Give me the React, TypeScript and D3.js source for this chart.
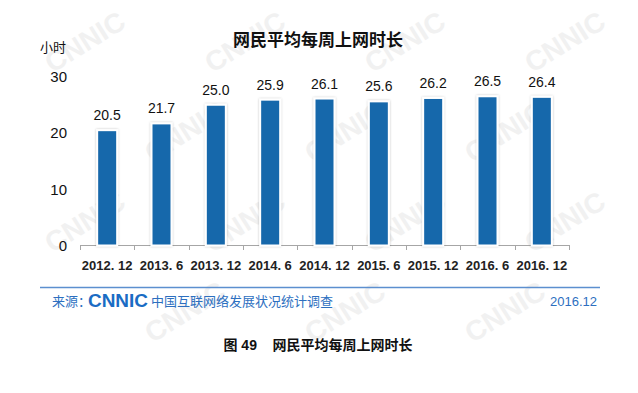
import React, { useEffect, useRef } from 'react';
import * as d3 from 'd3';

const periods = ['2012. 12', '2013. 6', '2013. 12', '2014. 6', '2014. 12', '2015. 6', '2015. 12', '2016. 6', '2016. 12'];
const hours = [20.5, 21.7, 25.0, 25.9, 26.1, 25.6, 26.2, 26.5, 26.4];
const yTicks = [0, 10, 20, 30];

const chartTitle = '网民平均每周上网时长';
const unitLabel = '小时';
const sourcePrefix = '来源：';
const sourceText = '中国互联网络发展状况统计调查';
const sourceDate = '2016.12';
const caption = '图 49    网民平均每周上网时长';

const W = 638;
const H = 393;

const App = () => {
  const svgRef = useRef<SVGSVGElement>(null);

  useEffect(() => {
    const svg = d3.select(svgRef.current);
    svg.selectAll('*').remove();

    const font = 'Arial, "Liberation Sans", "Noto Sans CJK SC", sans-serif';

    const defs = svg.append('defs');
    const filter = defs.append('filter').attr('id', 'barShadow')
      .attr('x', '-30%').attr('y', '-10%').attr('width', '160%').attr('height', '120%');
    filter.append('feDropShadow')
      .attr('dx', 0).attr('dy', 0).attr('stdDeviation', 1.2)
      .attr('flood-color', '#000').attr('flood-opacity', 0.25);

    // faint watermark
    const wm = svg.append('g').attr('fill', '#f1f1f1').style('font-family', 'Arial, sans-serif')
      .style('font-weight', 'bold').style('font-size', '28px');
    for (let r = 0; r < 4; r++) {
      for (let c = 0; c < 4; c++) {
        const wx = 90 + c * 160 - (r % 2) * 60;
        const wy = 50 + r * 90;
        if (wx < 60 || wx > 580 || wy > 340) continue;
        wm.append('text')
          .attr('transform', `translate(${wx},${wy}) rotate(-32)`)
          .attr('text-anchor', 'middle')
          .text('CNNIC');
      }
    }

    const x = d3.scaleBand<string>().domain(periods).range([80, 569]).padding(0);
    const y = d3.scaleLinear().domain([0, 30]).range([246, 76.5]);
    const barW = 20;

    // title
    svg.append('text')
      .attr('x', 318).attr('y', 46)
      .attr('text-anchor', 'middle')
      .style('font-family', font).style('font-weight', 'bold').style('font-size', '17px')
      .attr('fill', '#111')
      .text(chartTitle);

    svg.append('text')
      .attr('x', 66).attr('y', 52)
      .attr('text-anchor', 'end')
      .style('font-family', font).style('font-size', '13px')
      .attr('fill', '#111')
      .text(unitLabel);

    // y ticks
    svg.append('g').selectAll('text')
      .data(yTicks)
      .enter().append('text')
      .attr('x', 67).attr('y', d => y(d) + 5)
      .attr('text-anchor', 'end')
      .style('font-family', font).style('font-size', '15px')
      .attr('fill', '#111')
      .text(d => d);

    // x axis
    const xAxis = svg.append('g').attr('stroke', '#a6a6a6').attr('stroke-width', 1);
    xAxis.append('line').attr('x1', 80).attr('x2', 569).attr('y1', 245.5).attr('y2', 245.5);
    xAxis.selectAll('line.tick')
      .data(d3.range(periods.length + 1))
      .enter().append('line')
      .attr('class', 'tick')
      .attr('x1', i => Math.round(80 + i * x.bandwidth()) + 0.5)
      .attr('x2', i => Math.round(80 + i * x.bandwidth()) + 0.5)
      .attr('y1', 245).attr('y2', 250);

    // bars
    const bars = svg.append('g');
    bars.selectAll('rect')
      .data(hours)
      .enter().append('rect')
      .attr('x', (d, i) => x(periods[i])! + x.bandwidth() / 2 - barW / 2)
      .attr('y', d => y(d))
      .attr('width', barW)
      .attr('height', d => y(0) - y(d) - 0.5)
      .attr('fill', '#1668ab')
      .attr('stroke', '#fff')
      .attr('stroke-width', 2)
      .attr('filter', 'url(#barShadow)');

    bars.selectAll('text')
      .data(hours)
      .enter().append('text')
      .attr('x', (d, i) => x(periods[i])! + x.bandwidth() / 2)
      .attr('y', d => y(d) - 10)
      .attr('text-anchor', 'middle')
      .style('font-family', font).style('font-size', '14px')
      .attr('fill', '#111')
      .text(d => d.toFixed(1));

    svg.append('g').selectAll('text')
      .data(periods)
      .enter().append('text')
      .attr('x', d => x(d)! + x.bandwidth() / 2)
      .attr('y', 270)
      .attr('text-anchor', 'middle')
      .style('font-family', font).style('font-weight', 'bold').style('font-size', '13px')
      .attr('fill', '#222')
      .text(d => d);

    // footer
    svg.append('line')
      .attr('x1', 40).attr('x2', 600).attr('y1', 287.5).attr('y2', 287.5)
      .attr('stroke', '#5c8fcf').attr('stroke-width', 1.5);

    const foot = svg.append('g').style('font-family', font).attr('fill', '#2d6fbf');
    foot.append('text').attr('x', 52).attr('y', 306).style('font-size', '13px').text(sourcePrefix);
    foot.append('text').attr('x', 88).attr('y', 307)
      .style('font-size', '18px').style('font-weight', '900')
      .attr('fill', '#1a6cc4').attr('textLength', 60).attr('lengthAdjust', 'spacingAndGlyphs')
      .text('CNNIC');
    foot.append('text').attr('x', 151).attr('y', 306).style('font-size', '13px').text(sourceText);
    foot.append('text').attr('x', 597).attr('y', 306).attr('text-anchor', 'end')
      .style('font-size', '13px').text(sourceDate);

    svg.append('text')
      .attr('x', 318).attr('y', 350)
      .attr('text-anchor', 'middle')
      .attr('xml:space', 'preserve')
      .style('white-space', 'pre')
      .style('font-family', font).style('font-weight', 'bold').style('font-size', '14px')
      .attr('fill', '#111')
      .text(caption);
  }, []);

  return (
    <svg ref={svgRef} width={W} height={H}
      style={{ position: 'absolute', left: 0, top: 0, background: '#fff' }} />
  );
};

export default App;
